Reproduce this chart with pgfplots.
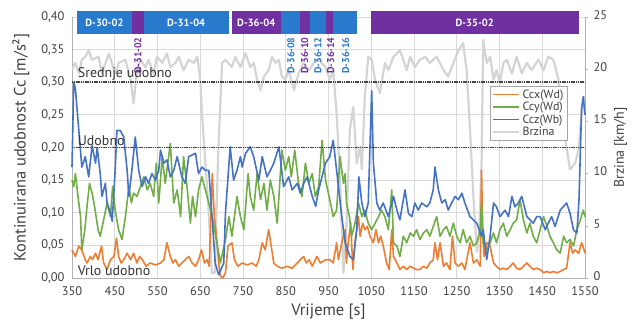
\documentclass[border=0pt]{standalone}
\usepackage{pgfplots}
\pgfplotsset{compat=1.18}
\usepackage{fontspec}
\setmainfont{PT Sans}
\definecolor{ccx}{RGB}{237,125,49}
\definecolor{ccy}{RGB}{112,173,71}
\definecolor{ccz}{RGB}{68,114,196}
\definecolor{brz}{RGB}{212,212,212}
\definecolor{barblue}{RGB}{41,121,205}
\definecolor{barpurple}{RGB}{112,48,160}
\definecolor{txt}{RGB}{64,64,64}
\definecolor{gridc}{RGB}{218,218,218}
\begin{document}
\begin{tikzpicture}
\path[use as bounding box] (-72bp,-49bp) rectangle (566bp,278bp);
% ---------- axis A: frame, grid, left ticks ----------
\begin{axis}[
  at={(0,0)}, anchor=south west, scale only axis,
  width=513bp, height=261bp,
  xmin=350, xmax=1550, ymin=0, ymax=0.4,
  axis x line*=bottom, axis y line*=left,
  axis line style={draw=gray!60, line width=0.8bp},
  xtick={350,450,...,1550},
  ytick={0,0.05,0.1,0.15,0.2,0.25,0.3,0.35,0.4},
  major tick length=0pt,
  grid=major, major grid style={draw=gridc, line width=0.8bp},
  /pgf/number format/assume math mode=true,
  xticklabel style={font=\fontsize{12.5}{12.5}\selectfont, text=txt, yshift=-5bp, /pgf/number format/1000 sep={}},
  yticklabel style={font=\fontsize{12.5}{12.5}\selectfont, text=txt, xshift=-4bp, /pgf/number format/.cd, fixed, fixed zerofill, precision=2, use comma},
  xlabel={Vrijeme [s]},
  ylabel={Kontinuirana udobnost Cc [m/s²]},
  xlabel style={yshift=-1bp},
  ylabel style={yshift=5bp},
  label style={font=\fontsize{16.5}{16.5}\selectfont, text=txt},
]
\end{axis}
% ---------- axis B: speed ----------
\begin{axis}[
  at={(0,0)}, anchor=south west, scale only axis,
  width=513bp, height=261bp,
  xmin=350, xmax=1550, ymin=0, ymax=25,
  axis x line=none, axis y line*=right,
  axis line style={draw=gray!60, line width=0.8bp},
  ytick={0,5,...,25},
  tick style={draw=gray!60},
  major tick length=3bp,
  tick align=outside,
  /pgf/number format/assume math mode=true,
  yticklabel style={font=\fontsize{12.5}{12.5}\selectfont, text=txt, xshift=2bp, yshift=2bp},
  ylabel={Brzina [km/h]},
  ylabel style={font=\fontsize{14}{14}\selectfont, text=txt},
]
\addplot[brz, line width=2.2bp, line join=round] coordinates {
(350,20.0)(358,20.6)(366,19.6)(373,20.9)(381,21.2)(389,21.8)(397,20.9)(412,21.2)(420,19.6)(436,21.5)(451,19.6)(459,20.6)(475,20.9)(487,19.0)(494,16.7)(502,19.9)(510,20.9)(522,20.2)(529,20.9)(541,19.6)(549,21.2)(561,20.6)(572,21.5)(580,20.2)(592,20.6)(600,21.2)(611,19.9)(623,20.9)(635,20.6)(643,21.2)(650,19.0)(654,15.8)(662,11.0)(670,6.2)(677,0.5)(684,0.5)(692,12)(701,20.6)(709,20.9)(724,20.2)(732,21.2)(744,20.2)(756,21.5)(767,20.2)(775,20.6)(783,19.0)(791,18.0)(799,19.3)(810,19.9)(818,21.2)(826,20.6)(834,20.9)(841,19.3)(849,19.0)(857,19.9)(869,18.0)(880,19.6)(892,20.6)(904,19.9)(916,20.6)(927,20.9)(943,20.2)(953,19.0)(961,19.9)(969,15.8)(977,9.4)(985,0.5)(992,5)(1000,14.2)(1008,16.4)(1016,11.0)(1024,12.6)(1028,10.4)(1035,17.4)(1043,21.2)(1051,20.9)(1059,19.0)(1070,17.7)(1082,20.6)(1090,19.9)(1102,21.2)(1117,21.8)(1125,20.9)(1133,19.9)(1141,21.2)(1152,20.2)(1164,20.9)(1176,21.2)(1187,20.6)(1203,21.2)(1219,19.9)(1230,19.3)(1242,20.6)(1254,21.8)(1265,22.5)(1273,19.9)(1281,14.2)(1289,7.8)(1297,2.5)(1302,4)(1308,11.0)(1312,22.8)(1320,20.6)(1328,21.2)(1336,19.0)(1343,19.9)(1351,18.6)(1359,20.6)(1367,20.9)(1379,19.6)(1390,21.2)(1402,19.6)(1414,20.6)(1425,19.9)(1441,20.9)(1453,19.9)(1464,21.2)(1476,20.9)(1488,19.0)(1500,14.2)(1515,10.4)(1527,11.0)(1535,12.3)(1542,15.8)(1550,17.4)
};
\end{axis}
% ---------- axis C: comfort series ----------
\begin{axis}[
  at={(0,0)}, anchor=south west, scale only axis,
  width=513bp, height=261bp,
  xmin=350, xmax=1550, ymin=0, ymax=0.4,
  hide axis, clip=false,
  legend style={at={(0.965,0.736)}, anchor=north east, draw=gray!70, fill=white,
    font=\fontsize{12}{12}\selectfont, text=txt, inner sep=1.5bp, row sep=-1.5bp, cells={anchor=west}},
  legend image code/.code={\draw[#1] (0bp,0bp) -- (26bp,0bp);},
]
\addplot[ccx, line width=1.6bp, line join=round] coordinates {
(350,0.043)(358,0.033)(366,0.049)(373,0.043)(381,0.028)(385,0.023)(393,0.033)(398,0.028)(405,0.038)(411,0.028)(419,0.049)(424,0.023)(432,0.013)(440,0.028)(448,0.033)(454,0.061)(459,0.033)(465,0.023)(471,0.028)(479,0.038)(487,0.028)(494,0.038)(502,0.023)(508,0.033)(515,0.028)(523,0.018)(533,0.023)(545,0.020)(557,0.023)(565,0.028)(572,0.054)(580,0.033)(586,0.023)(592,0.028)(600,0.018)(607,0.023)(615,0.028)(623,0.033)(631,0.023)(639,0.018)(646,0.028)(653,0.043)(660,0.023)(666,0.028)(671,0.018)(678,0.160)(683,0.094)(688,0.064)(693,0.023)(697,0.003)(703,0.000)(709,0.008)(715,0.049)(724,0.054)(730,0.028)(738,0.018)(748,0.023)(760,0.020)(771,0.023)(781,0.018)(787,0.028)(795,0.054)(802,0.043)(810,0.074)(816,0.049)(822,0.023)(830,0.018)(841,0.015)(853,0.018)(865,0.015)(877,0.023)(884,0.028)(892,0.033)(898,0.023)(905,0.028)(912,0.018)(923,0.033)(931,0.023)(943,0.028)(953,0.028)(961,0.023)(969,0.054)(973,0.028)(981,0.054)(989,0.074)(992,0.023)(996,0.054)(1002,0.084)(1007,0.013)(1012,0.054)(1020,0.094)(1024,0.064)(1030,0.084)(1035,0.074)(1041,0.079)(1047,0.064)(1055,0.054)(1061,0.074)(1067,0.054)(1072,0.064)(1078,0.049)(1086,0.023)(1092,0.013)(1098,0.074)(1102,0.033)(1110,0.023)(1117,0.013)(1125,0.018)(1133,0.013)(1141,0.018)(1149,0.015)(1156,0.013)(1164,0.013)(1172,0.018)(1180,0.015)(1187,0.023)(1195,0.028)(1199,0.054)(1205,0.028)(1211,0.054)(1219,0.018)(1226,0.023)(1234,0.013)(1240,0.064)(1246,0.023)(1254,0.018)(1262,0.023)(1269,0.013)(1281,0.054)(1289,0.023)(1297,0.028)(1305,0.018)(1308,0.165)(1311,0.064)(1314,0.033)(1320,0.054)(1328,0.049)(1336,0.023)(1343,0.018)(1351,0.013)(1359,0.015)(1367,0.013)(1375,0.018)(1382,0.023)(1390,0.015)(1398,0.013)(1406,0.018)(1414,0.023)(1421,0.018)(1429,0.013)(1437,0.015)(1445,0.013)(1453,0.008)(1461,0.010)(1468,0.008)(1476,0.010)(1484,0.008)(1492,0.010)(1500,0.013)(1507,0.015)(1515,0.054)(1521,0.038)(1527,0.043)(1535,0.038)(1542,0.054)(1548,0.043)(1550,0.038)
};
\addlegendentry{Ccx(Wd)}
\addplot[ccy, line width=1.6bp, line join=round] coordinates {
(350,0.150)(354,0.140)(358,0.160)(364,0.125)(370,0.094)(373,0.043)(380,0.074)(385,0.109)(391,0.145)(397,0.130)(403,0.109)(411,0.074)(416,0.064)(424,0.089)(432,0.115)(440,0.094)(445,0.140)(451,0.104)(459,0.074)(467,0.059)(475,0.094)(483,0.140)(489,0.115)(494,0.130)(502,0.125)(510,0.140)(518,0.155)(526,0.135)(533,0.145)(541,0.125)(547,0.176)(553,0.115)(561,0.186)(568,0.145)(580,0.206)(588,0.115)(596,0.135)(604,0.094)(611,0.186)(619,0.140)(627,0.084)(632,0.125)(639,0.094)(646,0.135)(654,0.155)(662,0.135)(670,0.115)(678,0.094)(689,0.054)(697,0.023)(709,0.059)(717,0.094)(724,0.064)(736,0.125)(744,0.094)(752,0.074)(762,0.160)(767,0.125)(775,0.104)(783,0.160)(791,0.120)(799,0.145)(806,0.104)(814,0.150)(822,0.125)(830,0.084)(841,0.196)(849,0.165)(857,0.186)(863,0.155)(871,0.196)(880,0.145)(888,0.125)(896,0.176)(904,0.145)(912,0.160)(919,0.125)(927,0.140)(935,0.211)(943,0.150)(953,0.120)(961,0.094)(969,0.104)(977,0.186)(985,0.145)(989,0.160)(992,0.115)(999,0.094)(1004,0.064)(1012,0.084)(1020,0.115)(1028,0.094)(1035,0.104)(1043,0.084)(1051,0.074)(1059,0.084)(1067,0.094)(1074,0.104)(1082,0.094)(1090,0.074)(1098,0.135)(1102,0.054)(1110,0.049)(1117,0.033)(1125,0.064)(1133,0.054)(1141,0.069)(1149,0.064)(1156,0.074)(1164,0.059)(1172,0.069)(1180,0.074)(1187,0.064)(1195,0.079)(1203,0.094)(1211,0.064)(1219,0.074)(1226,0.079)(1234,0.064)(1242,0.084)(1250,0.064)(1258,0.054)(1265,0.074)(1273,0.054)(1281,0.064)(1289,0.049)(1297,0.054)(1305,0.074)(1308,0.115)(1312,0.054)(1320,0.043)(1328,0.054)(1336,0.069)(1343,0.054)(1351,0.074)(1359,0.084)(1367,0.064)(1375,0.074)(1382,0.084)(1390,0.089)(1398,0.120)(1406,0.089)(1414,0.069)(1421,0.084)(1429,0.064)(1437,0.054)(1445,0.074)(1453,0.094)(1461,0.079)(1468,0.064)(1476,0.054)(1484,0.043)(1492,0.038)(1500,0.064)(1507,0.054)(1515,0.059)(1523,0.049)(1531,0.074)(1539,0.089)(1546,0.104)(1550,0.094)
};
\addlegendentry{Ccy(Wd)}
\addplot[ccz, line width=1.6bp, line join=round] coordinates {
(350,0.17)(354,0.30)(358,0.29)(366,0.226)(373,0.170)(381,0.186)(389,0.155)(397,0.203)(405,0.176)(409,0.20)(416,0.160)(420,0.125)(428,0.145)(432,0.115)(440,0.100)(444,0.087)(451,0.165)(455,0.226)(463,0.226)(471,0.216)(479,0.165)(483,0.125)(490,0.165)(498,0.216)(506,0.165)(514,0.140)(522,0.155)(529,0.145)(537,0.160)(545,0.150)(553,0.165)(557,0.196)(565,0.176)(572,0.181)(580,0.155)(588,0.165)(596,0.186)(607,0.155)(615,0.145)(623,0.186)(639,0.191)(646,0.160)(654,0.170)(662,0.165)(670,0.165)(685,0.023)(693,0.005)(705,0.023)(709,0.100)(720,0.201)(728,0.150)(736,0.165)(744,0.186)(748,0.170)(756,0.191)(767,0.201)(775,0.186)(787,0.150)(795,0.186)(806,0.155)(814,0.165)(822,0.176)(834,0.201)(845,0.140)(857,0.155)(865,0.135)(877,0.145)(884,0.130)(892,0.145)(900,0.155)(912,0.125)(920,0.110)(927,0.135)(943,0.176)(953,0.186)(961,0.211)(969,0.165)(981,0.094)(989,0.054)(1000,0.033)(1008,0.028)(1016,0.074)(1021,0.155)(1028,0.115)(1035,0.094)(1043,0.115)(1051,0.287)(1055,0.176)(1063,0.115)(1070,0.104)(1078,0.115)(1090,0.094)(1102,0.125)(1110,0.104)(1117,0.089)(1129,0.135)(1137,0.099)(1145,0.094)(1152,0.115)(1160,0.104)(1168,0.115)(1180,0.109)(1187,0.115)(1195,0.135)(1199,0.170)(1207,0.135)(1215,0.115)(1223,0.120)(1230,0.104)(1238,0.115)(1246,0.125)(1254,0.120)(1262,0.130)(1269,0.115)(1281,0.094)(1297,0.084)(1308,0.064)(1312,0.074)(1320,0.028)(1328,0.064)(1336,0.115)(1343,0.109)(1351,0.094)(1363,0.104)(1371,0.094)(1379,0.125)(1386,0.109)(1394,0.115)(1402,0.125)(1414,0.094)(1429,0.084)(1437,0.094)(1445,0.094)(1457,0.074)(1464,0.084)(1472,0.094)(1480,0.079)(1492,0.104)(1507,0.115)(1515,0.099)(1523,0.074)(1531,0.069)(1536,0.12)(1542,0.26)(1546,0.278)(1550,0.25)
};
\addlegendentry{Ccz(Wb)}
\addlegendimage{brz, line width=2.4bp}
\addlegendentry{Brzina}
% threshold lines
\draw[black!72, line width=1.6bp, dash pattern=on 1.2bp off 0.6bp] (axis cs:350,0.30) -- (axis cs:1550,0.30);
\draw[black!72, line width=1.6bp, dash pattern=on 1.2bp off 0.6bp] (axis cs:350,0.20) -- (axis cs:1550,0.20);
\node[anchor=south west, inner sep=1bp, text=black!80, font=\fontsize{14}{14}\selectfont] at (axis cs:361,0.301) {Srednje udobno};
\node[anchor=south west, inner sep=1bp, text=black!80, font=\fontsize{14}{14}\selectfont] at (axis cs:361,0.201) {Udobno};
\node[anchor=south west, inner sep=1bp, text=black!80, font=\fontsize{14}{14}\selectfont] at (axis cs:361,0.001) {Vrlo udobno};
% section bars
\fill[barblue] (axis cs:362,0.374) rectangle (axis cs:490,0.4095);
\fill[barpurple] (axis cs:490,0.374) rectangle (axis cs:518,0.4095);
\fill[barblue] (axis cs:518,0.374) rectangle (axis cs:717,0.4095);
\fill[barpurple] (axis cs:724,0.374) rectangle (axis cs:839,0.4095);
\fill[barblue] (axis cs:839,0.374) rectangle (axis cs:883,0.4095);
\fill[barpurple] (axis cs:883,0.374) rectangle (axis cs:907,0.4095);
\fill[barblue] (axis cs:907,0.374) rectangle (axis cs:944,0.4095);
\fill[barpurple] (axis cs:944,0.374) rectangle (axis cs:960,0.4095);
\fill[barblue] (axis cs:960,0.374) rectangle (axis cs:1017,0.4095);
\fill[barpurple] (axis cs:1049,0.374) rectangle (axis cs:1536,0.4095);
\begin{scope}[every node/.style={text=white, font=\bfseries\fontsize{10.5}{10.5}\selectfont, inner sep=0pt}]
\node at (axis cs:426,0.3918) {D-30-02};
\node at (axis cs:617,0.3918) {D-31-04};
\node at (axis cs:781,0.3918) {D-36-04};
\node at (axis cs:1292,0.3918) {D-35-02};
\end{scope}
\begin{scope}[every node/.style={rotate=90, anchor=east, font=\bfseries\fontsize{10}{10}\selectfont, inner sep=0pt}]
\node[text=barpurple] at (axis cs:504,0.369) {D-31-02};
\node[text=barblue] at (axis cs:862,0.369) {D-36-08};
\node[text=barpurple] at (axis cs:894,0.369) {D-36-10};
\node[text=barblue] at (axis cs:925,0.369) {D-36-12};
\node[text=barpurple] at (axis cs:955,0.369) {D-36-14};
\node[text=barblue] at (axis cs:990,0.369) {D-36-16};
\end{scope}
\end{axis}
\end{tikzpicture}
\end{document}
